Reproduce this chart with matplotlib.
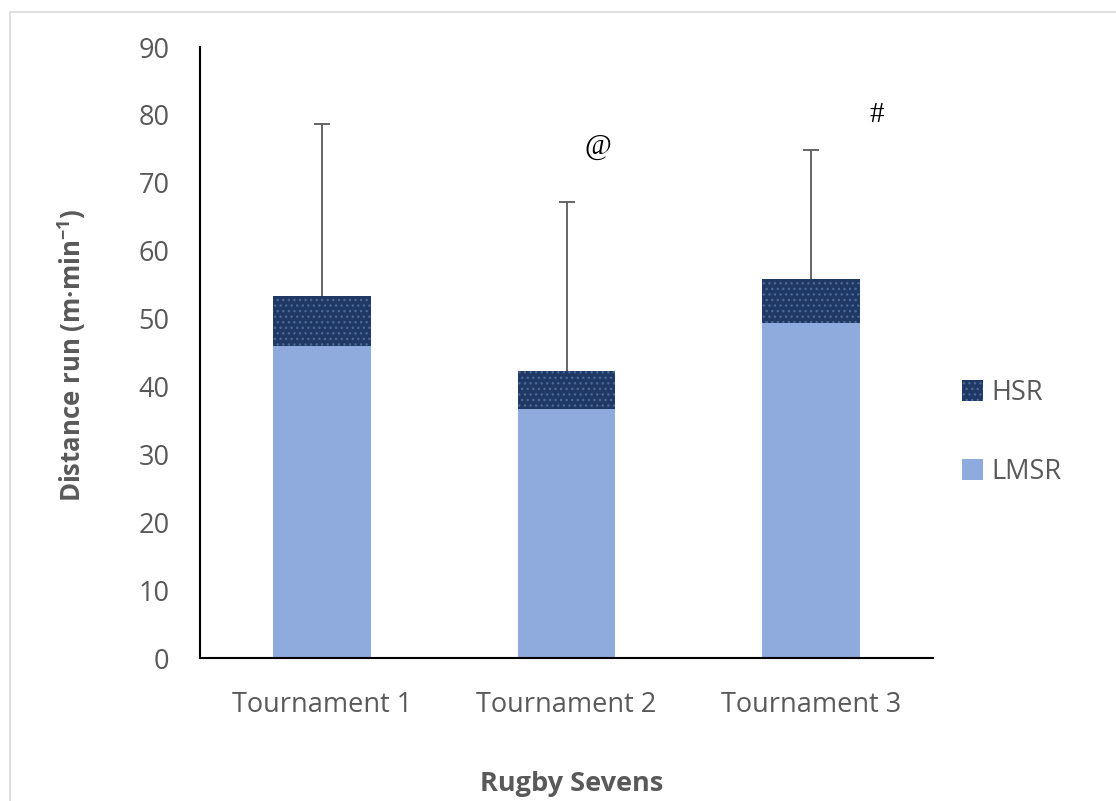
import numpy as np
import matplotlib.pyplot as plt
from matplotlib.patches import Rectangle, Patch

plt.rcParams['font.family'] = ['Open Sans', 'DejaVu Sans']
plt.rcParams['mathtext.fontset'] = 'custom'
plt.rcParams['mathtext.rm'] = 'Open Sans:bold'
plt.rcParams['hatch.linewidth'] = 1.0

tournaments = ['Tournament 1', 'Tournament 2', 'Tournament 3']
lmsr = [46.0, 36.7, 49.4]
hsr = [7.3, 5.6, 6.4]
sd_total = [25.3, 24.9, 19.0]
marks = ['', '@', '#']
mark_y = [None, 75.3, 80.0]
mark_dx = [0, 0.13, 0.27]

text_grey = '#595959'
light_blue = '#8faadc'
navy = '#1f3864'

x = np.arange(len(tournaments))
totals = np.array(lmsr) + np.array(hsr)
tops = totals + np.array(sd_total)

fig = plt.figure(figsize=(11.16, 8.01), dpi=100)
ax = fig.add_axes([0.1792, 0.1785, 0.657, 0.7628])

ax.bar(x, lmsr, width=0.4, color=light_blue, linewidth=0, label='LMSR')
ax.bar(x, hsr, bottom=lmsr, width=0.4, color=navy, edgecolor='#4a6898',
       linewidth=0, hatch='...', label='HSR')

# upper error bars only, cap at the top
ax.vlines(x, totals, tops, color='#595959', linewidth=1.3)
ax.hlines(tops, x - 0.033, x + 0.033, color='#595959', linewidth=1.3)

for xi, m, my, dx in zip(x, marks, mark_y, mark_dx):
    if m:
        ax.text(xi + dx, my, m, ha='center', va='center', fontsize=21,
                family='Liberation Serif', color='black')

ax.set_xlim(-0.5, 2.5)
ax.set_ylim(0, 90)
ax.set_yticks(range(0, 91, 10))
ax.set_xticks(x)
ax.set_xticklabels(tournaments)
ax.tick_params(axis='both', length=0, labelsize=19.5, labelcolor=text_grey)
ax.tick_params(axis='y', pad=22)
ax.tick_params(axis='x', pad=24)
for s in ['top', 'right']:
    ax.spines[s].set_visible(False)
for s in ['left', 'bottom']:
    ax.spines[s].set_color('black')
    ax.spines[s].set_linewidth(1.5)

fig.text(0.0645, 0.557, r'Distance run (m·min$^{\mathrm{-1}}$)', rotation=90,
         ha='center', va='center', fontsize=18.5, fontweight='bold', color=text_grey)
fig.text(0.512, 0.021, 'Rugby Sevens', ha='center', va='center', fontsize=19.5,
         fontweight='bold', color=text_grey)

handles = [Patch(facecolor=navy, edgecolor='#4a6898', linewidth=0, hatch='...'),
           Patch(facecolor=light_blue, linewidth=0)]
fig.legend(handles, ['HSR', 'LMSR'], loc='center left',
           bbox_to_anchor=(0.84, 0.46), frameon=False, fontsize=19.5,
           labelspacing=1.9, handlelength=0.8, handleheight=0.8,
           handletextpad=0.3, labelcolor=text_grey)

# chart frame
fig.patches.append(Rectangle((10 / 1116, -0.1), 1.2, 1.1 - 12 / 801,
                             transform=fig.transFigure, fill=False,
                             edgecolor='#d9d9d9', linewidth=1.2))

fig.savefig('out.png', dpi=100)
